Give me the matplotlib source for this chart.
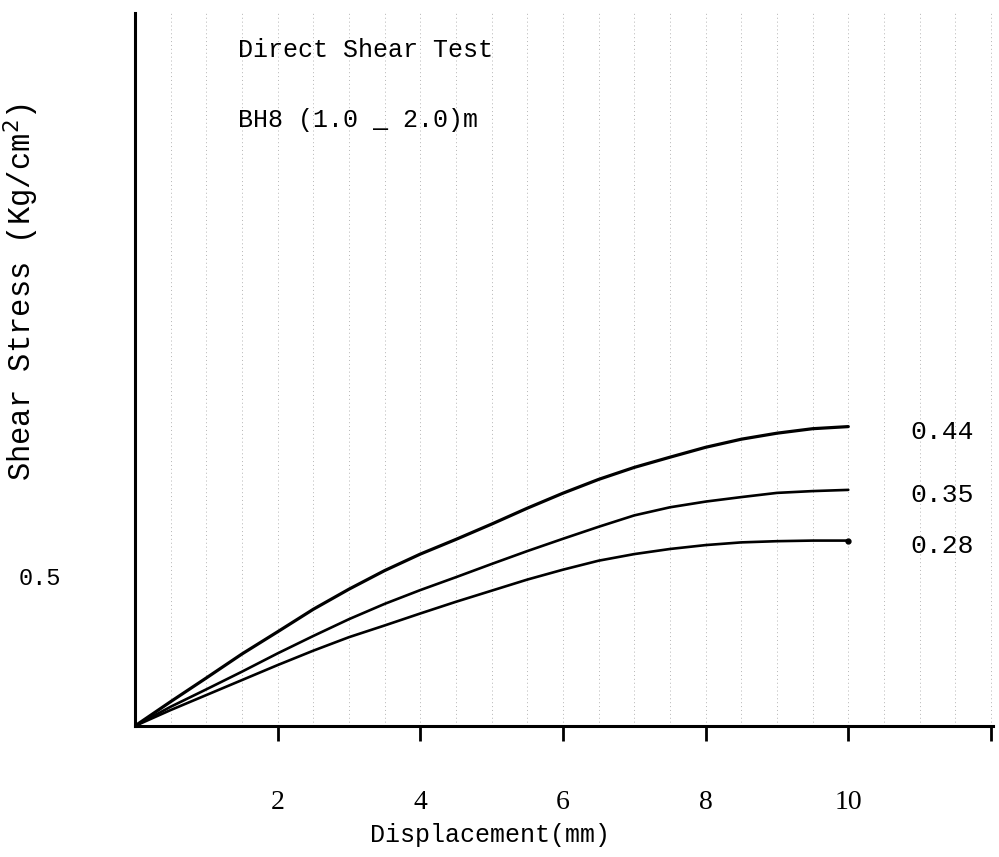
import numpy as np
import matplotlib.pyplot as plt

# displacement (mm) and shear stress
disp = [0, 0.5, 1, 1.5, 2, 2.5, 3, 3.5, 4, 4.5, 5,
        5.5, 6, 6.5, 7, 7.5, 8, 8.5, 9, 9.5, 10]
tau_044 = [0, 0.081, 0.16, 0.24, 0.314, 0.389, 0.456, 0.518, 0.573, 0.622, 0.673,
           0.726, 0.776, 0.822, 0.862, 0.896, 0.929, 0.956, 0.976, 0.991, 0.998]
tau_035 = [0, 0.064, 0.122, 0.181, 0.242, 0.3, 0.356, 0.407, 0.453, 0.496, 0.54,
           0.583, 0.624, 0.664, 0.702, 0.729, 0.748, 0.763, 0.777, 0.783, 0.787]
tau_028 = [0, 0.053, 0.103, 0.153, 0.203, 0.251, 0.296, 0.335, 0.375, 0.414, 0.451,
           0.488, 0.521, 0.551, 0.573, 0.59, 0.603, 0.612, 0.616, 0.618, 0.618]
curve_labels = ["0.44", "0.35", "0.28"]
xticks = [2, 4, 6, 8, 10, 12]
xticklabels = ["2", "4", "6", "8", "10", ""]

mono = ["Liberation Mono", "DejaVu Sans Mono"]
serif = ["Liberation Serif", "DejaVu Serif"]

fig = plt.figure(figsize=(9.99, 8.57), dpi=100)
ax = fig.add_axes([0.1351, 0.1529, 0.859, 0.832])
ax.set_xlim(0, 12.03)
ax.set_ylim(0, 2.377)

# faint graph-paper texture
for gx in np.arange(0.5, 12.1, 0.5):
    ax.axvline(gx, color="#b4b4b4", lw=0.7, ls=(0, (1, 3)), zorder=0)

ax.plot(disp, tau_044, color="black", lw=2.3, solid_capstyle="round")
ax.plot(disp, tau_035, color="black", lw=1.9, solid_capstyle="round")
ax.plot(disp, tau_028, color="black", lw=1.9, solid_capstyle="round")
ax.plot([disp[-1]], [tau_028[-1]], "o", color="black", ms=3.5)

for lab, ys in zip(curve_labels, [tau_044, tau_035, tau_028]):
    ax.text(11.32, ys[-1] - 0.018, lab, fontsize=19, family=mono, va="center", ha="center")

for s in ["top", "right"]:
    ax.spines[s].set_visible(False)
for s in ["left", "bottom"]:
    ax.spines[s].set_linewidth(2.2)

ax.set_xticks(xticks)
ax.set_xticklabels(xticklabels, fontsize=20, family=serif)
ax.tick_params(axis="x", direction="out", length=11, width=2, pad=35)
ax.set_yticks([0.5])
ax.set_yticklabels(["0.5"], fontsize=17, family=mono)
ax.tick_params(axis="y", length=0, pad=53)

fig.text(0.49, 0.026, "Displacement(mm)", fontsize=18, family=mono, ha="center", va="center")
fig.text(0.021, 0.659, "Shear Stress (Kg/cm$^2$)", fontsize=22, family=mono,
         rotation=90, ha="center", va="center")
ax.text(0.238, 0.942, "Direct Shear Test", transform=fig.transFigure,
        fontsize=18, family=mono, va="center")
ax.text(0.238, 0.86, "BH8 (1.0 _ 2.0)m", transform=fig.transFigure,
        fontsize=18, family=mono, va="center")

fig.savefig("out.png", dpi=100)
